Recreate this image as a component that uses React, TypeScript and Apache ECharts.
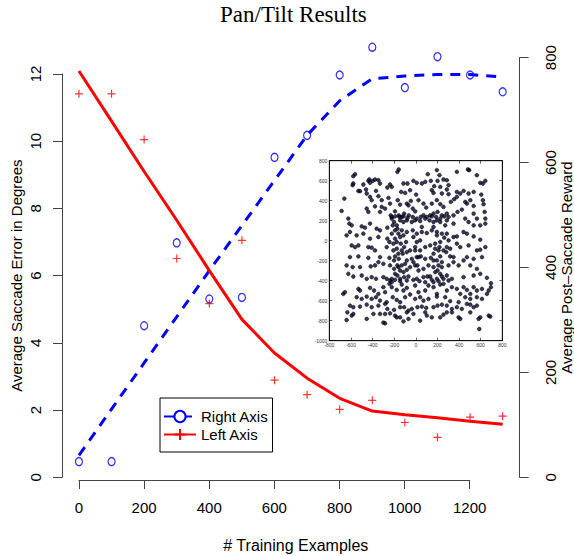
import React, { useEffect, useRef } from 'react';
import * as echarts from 'echarts';

// Main chart data
const trainingExamples = [0, 100, 200, 300, 400, 500, 600, 700, 800, 900, 1000, 1100, 1200, 1300];
const errorObserved = [11.41, 11.41, 10.05, 6.51, 5.17, 7.05, 2.89, 2.46, 2.02, 2.29, 1.63, 1.19, 1.79, 1.82];
const errorFit = [12.09, 10.6, 9.1, 7.65, 6.15, 4.7, 3.7, 2.95, 2.35, 1.97, 1.86, 1.77, 1.67, 1.58];
const rewardObserved = [30, 30, 289, 447, 340, 343, 610, 652, 767, 820, 743, 802, 767, 735];
const rewardFit = [42, 130, 218, 306, 394, 480, 566, 652, 718, 760, 765, 768, 768, 763];

const leftTicks = { min: 0, max: 12, interval: 2 };
const leftPlotMax = 12.4857; // left scale value at the top of the right axis (800)
const rightTicks = { min: 0, max: 800, interval: 200 };
const xTicks = { min: 0, max: 1200, interval: 200 };
const xPlotRange = { min: -52, max: 1352 };
const insetXTicks = { min: -800, max: 800, interval: 200 };
const insetYTicks = { min: -1000, max: 800, interval: 200 };

// Inset scatter (x, y)
const insetPoints: [number, number][] = [
  [-562,665],[-578,645],[-158,712],[-170,689],[482,712],[494,706],[195,706],[111,665],[219,655],[380,689],
  [565,655],[643,599],[621,572],[596,579],[-578,572],[-584,555],[-485,562],[-439,599],[-430,612],[-399,599],
  [-377,612],[-346,605],[-331,572],[-423,579],[-238,562],[-222,538],[-114,572],[-77,572],[-22,599],[9,579],
  [56,572],[87,589],[139,599],[170,545],[201,599],[256,612],[287,605],[303,555],[226,538],[287,512],
  [-531,498],[-516,495],[-460,512],[-368,498],[-263,532],[-136,488],[-99,478],[-53,505],[3,461],[148,505],
  [164,478],[241,472],[303,465],[380,488],[442,498],[535,488],[606,461],[488,472],
  [-661,421],[-454,472],[-423,438],[-408,405],[-346,445],[-315,405],[-253,428],[-238,371],[-315,338],[-284,321],
  [-167,405],[-145,361],[-83,371],[-46,398],[-68,354],[-28,321],[25,405],[-6,294],[71,371],[96,331],
  [148,371],[195,405],[226,365],[256,338],[324,388],[355,415],[380,438],[411,472],[457,388],[473,371],
  [504,405],[535,348],[627,365],[621,405],[-686,298],[-454,321],[-439,288],[-377,344],[-331,288],[-192,294],
  [-222,237],[-158,254],[-130,237],[-108,271],[-65,254],[71,254],[133,254],[164,271],[201,288],[241,254],
  [287,271],[349,254],[386,288],[426,311],[535,271],[565,221],[637,288],[643,221],
  [-624,221],[-615,171],[-593,154],[-500,144],[-470,130],[-423,171],[-362,120],[-331,104],[-263,130],[-222,221],
  [-201,187],[-176,154],[-145,204],[-114,187],[-83,204],[-37,187],[-6,204],[40,197],[87,221],[127,204],
  [164,187],[195,204],[226,187],[287,204],[349,171],[457,221],[488,187],[535,154],[596,154],[643,171],
  [-609,87],[-640,54],[-547,54],[-485,70],[-423,20],[-346,37],[-263,20],[-192,104],[-161,70],[-130,104],
  [-83,87],[-28,104],[9,70],[56,87],[102,77],[148,104],[195,87],[241,70],[263,30],[349,37],
  [380,43],[442,87],[473,70],[535,43],[596,10],
  [-593,-47],[-562,-64],[-531,-47],[-439,-64],[-408,-70],[-377,-97],[-269,-64],[-244,-13],[-207,-30],[-176,-80],
  [-139,-30],[-108,-64],[-83,-114],[-53,-97],[-6,-64],[40,-97],[87,-64],[133,-47],[179,-80],[219,-64],
  [256,-97],[287,-64],[318,-80],[380,-30],[411,-64],[488,-47],[565,-97],[596,-90],[643,-64],[-609,-164],
  [-531,-157],[-439,-171],[-331,-164],[-244,-171],[-192,-157],[-158,-181],[-121,-130],[-83,-197],[-37,-181],[9,-164],
  [46,-157],[87,-181],[139,-171],[164,-130],[195,-197],[226,-157],[318,-157],[349,-164],[442,-197],[473,-164],
  [535,-181],[612,-164],
  [-640,-247],[-584,-264],[-516,-264],[-417,-257],[-377,-247],[-346,-214],[-300,-231],[-238,-247],[-201,-281],[-161,-264],
  [-130,-247],[-83,-291],[-53,-264],[-6,-247],[25,-298],[71,-281],[117,-247],[164,-264],[201,-298],[241,-264],
  [303,-247],[349,-214],[396,-247],[504,-247],[565,-281],[-624,-331],[-578,-358],[-500,-348],[-454,-381],[-408,-364],
  [-368,-381],[-300,-364],[-238,-398],[-192,-391],[-145,-381],[-108,-364],[-68,-358],[9,-381],[71,-364],[108,-358],
  [148,-391],[195,-381],[241,-358],[287,-348],[334,-381],[442,-364],[535,-348],[596,-331],[658,-371],[695,-425],
  [-671,-532],[-655,-515],[-531,-482],[-516,-498],[-423,-472],[-386,-498],[-368,-565],[-346,-532],[-300,-465],[-284,-515],
  [-244,-431],[-222,-465],[-176,-492],[-130,-438],[-114,-498],[-83,-472],[-6,-448],[25,-515],[87,-498],[117,-448],
  [164,-465],[195,-532],[226,-438],[287,-498],[334,-465],[380,-482],[411,-532],[442,-465],[473,-492],[504,-532],
  [535,-465],[565,-498],[612,-482],[695,-465],[674,-498],[-547,-565],[-500,-582],[-454,-559],[-408,-582],[-331,-599],
  [-269,-615],[-213,-565],[-176,-592],[-145,-615],[-99,-565],[-53,-538],[-6,-582],[40,-565],[71,-599],[117,-582],
  [195,-559],[272,-565],[318,-605],[396,-615],[457,-565],[504,-582],[565,-565],[612,-582],[658,-532],
  [-609,-649],[-578,-665],[-516,-659],[-454,-639],[-408,-665],[-346,-649],[-284,-632],[-263,-682],[-201,-692],[-145,-665],
  [-108,-665],[-68,-699],[-37,-682],[15,-665],[56,-659],[96,-672],[164,-665],[201,-649],[241,-639],[287,-649],
  [334,-682],[380,-665],[426,-682],[473,-632],[504,-639],[535,-665],[565,-649],[-633,-716],[-593,-749],[-640,-793],
  [-578,-732],[-454,-782],[-392,-732],[-331,-732],[-284,-732],[-238,-726],[-192,-749],[-176,-766],[-145,-766],[-83,-716],
  [-68,-782],[-22,-732],[87,-716],[102,-749],[148,-766],[226,-766],[256,-739],[287,-716],[334,-716],[396,-766],
  [411,-782],[504,-716],[581,-782],[596,-766],[674,-749],[689,-759],
  [-284,-826],[-300,-819],[-114,-806],[40,-799],[587,-883],
  [-232,254],[-192,244],[-151,237],[-114,244],[-77,227],[-28,237],[9,221],[46,237],[102,237],[148,244],
  [188,237],[226,221],[263,244],[303,237],[-213,154],[-170,120],[-145,37],[-192,20],[-222,70],[-176,-13],
  [-207,-97],[-161,-130],[-201,-197],[-170,-247],[-145,-298],[-192,-331],[-222,-381],[-170,-348],[-114,54],[-90,-13],
  [-130,-97],[-99,-231],[-114,-314],[-22,37],[9,-13],[-6,-97],[25,-164],[-22,-214],[15,-247],[40,3],
  [56,137],[164,137],[195,54],[226,-13],[179,-30],[210,-97],[164,-197],[241,-214],[210,-247],[179,-314],
  [226,-331],[256,-381],[272,154],[287,70],[303,3],[281,-114],[-269,-381],[-222,-415],[-145,-405],[-83,-398],
  [-22,-391],[34,-405],[87,-415],[133,-358],[164,-415],[210,-405],[256,-431],[303,-398],
];

const SANS = 'Liberation Sans, Arial, sans-serif';
const AXIS_COLOR = '#444';
const plain = (v: number) => String(v);

export default function App() {
  const ref = useRef<HTMLDivElement>(null);

  useEffect(() => {
    if (!ref.current) return;
    const chart = echarts.init(ref.current, null, { renderer: 'svg' });

    const hiddenAxisParts = {
      axisLine: { show: false, onZero: false },
      axisTick: { show: false },
      axisLabel: { show: false },
      splitLine: { show: false },
    };

    const insetAxisCommon = {
      axisLine: { show: true, onZero: false, lineStyle: { color: '#000', width: 0.8 } },
      axisTick: { show: true, inside: true, length: 3, lineStyle: { color: '#000', width: 0.6 } },
      splitLine: { show: false },
    };

    const mainAxisLine = { show: true, onZero: false, lineStyle: { color: AXIS_COLOR, width: 1 } };
    const mainAxisTick = { show: true, length: 9, lineStyle: { color: AXIS_COLOR, width: 1 } };

    const option: any = {
      animation: false,
      backgroundColor: '#fff',
      title: {
        text: 'Pan/Tilt Results',
        left: 220,
        top: 3,
        padding: 0,
        textStyle: { fontFamily: 'Liberation Serif, Times New Roman, serif', fontSize: 23, fontWeight: 'normal', color: '#000' },
      },
      legend: {
        data: ['Right Axis', 'Left Axis'],
        orient: 'vertical',
        left: 160,
        top: 398,
        padding: [10, 4, 9, 3],
        itemGap: 1,
        itemWidth: 32,
        itemHeight: 14,
        borderColor: '#000',
        borderWidth: 1,
        borderRadius: 0,
        backgroundColor: '#fff',
        textStyle: { fontFamily: SANS, fontSize: 15, color: '#000', lineHeight: 17 },
        selectedMode: false,
      },
      grid: [
        // 0: plotting region for both main series (top = 800 on right scale, bottom = 0)
        { left: 62, top: 57.7, width: 457.6, height: 419.6, outerBoundsMode: 'none', containLabel: false },
        // 1: left axis drawn from 0 to 12 only
        { left: 62, top: 74, width: 457.6, height: 403.3, outerBoundsMode: 'none', containLabel: false },
        // 2: bottom axis drawn from 0 to 1200 only
        { left: 79, top: 40, width: 390.7, height: 440, outerBoundsMode: 'none', containLabel: false },
        // 3: inset
        { left: 329.3, top: 160.7, width: 173, height: 180, show: true, backgroundColor: '#fff', borderColor: '#000', borderWidth: 0.8, z: 5, outerBoundsMode: 'none', containLabel: false },
      ],
      xAxis: [
        {
          gridIndex: 0, type: 'value', min: xPlotRange.min, max: xPlotRange.max, ...hiddenAxisParts,
          name: '# Training Examples', nameLocation: 'middle', nameGap: 60, nameMoveOverlap: false,
          nameTextStyle: { fontFamily: SANS, fontSize: 16, color: '#000', padding: [0, 0, 0, 10] },
        },
        { gridIndex: 1, type: 'value', min: xPlotRange.min, max: xPlotRange.max, ...hiddenAxisParts },
        {
          gridIndex: 2, type: 'value', min: xTicks.min, max: xTicks.max, interval: xTicks.interval,
          axisLine: mainAxisLine,
          axisTick: mainAxisTick,
          axisLabel: { fontFamily: SANS, fontSize: 15, color: '#000', margin: 20, formatter: plain },
          splitLine: { show: false },
        },
        {
          gridIndex: 3, type: 'value', min: insetXTicks.min, max: insetXTicks.max, interval: insetXTicks.interval,
          ...insetAxisCommon, z: 6,
          axisLabel: { fontFamily: SANS, fontSize: 5, color: '#333', margin: 2, formatter: plain },
        },
        {
          gridIndex: 3, type: 'value', position: 'top', min: insetXTicks.min, max: insetXTicks.max, interval: insetXTicks.interval,
          ...insetAxisCommon, z: 6, axisLabel: { show: false },
        },
      ],
      yAxis: [
        // 0: hidden left scale for the error series in grid 0
        { gridIndex: 0, type: 'value', position: 'left', min: 0, max: leftPlotMax, ...hiddenAxisParts },
        // 1: visible right scale (reward)
        {
          gridIndex: 0, type: 'value', position: 'right', min: rightTicks.min, max: rightTicks.max, interval: rightTicks.interval,
          axisLine: mainAxisLine,
          axisTick: mainAxisTick,
          axisLabel: { fontFamily: SANS, fontSize: 15, color: '#000', rotate: 90, margin: 23, formatter: plain },
          splitLine: { show: false },
          name: 'Average Post\u2013Saccade Reward', nameLocation: 'middle', nameGap: 39, nameRotate: 90, nameMoveOverlap: false,
          nameTextStyle: { fontFamily: SANS, fontSize: 15, color: '#000' },
        },
        // 2: visible left axis (error), 0..12
        {
          gridIndex: 1, type: 'value', position: 'left', min: leftTicks.min, max: leftTicks.max, interval: leftTicks.interval,
          axisLine: mainAxisLine,
          axisTick: mainAxisTick,
          axisLabel: { fontFamily: SANS, fontSize: 15, color: '#000', rotate: 90, margin: 19, formatter: plain },
          splitLine: { show: false },
          name: 'Average Saccade Error in Degrees', nameLocation: 'middle', nameGap: 38, nameRotate: 90, nameMoveOverlap: false,
          nameTextStyle: { fontFamily: SANS, fontSize: 15, color: '#000' },
        },
        { gridIndex: 2, type: 'value', min: 0, max: 1, ...hiddenAxisParts },
        {
          gridIndex: 3, type: 'value', min: insetYTicks.min, max: insetYTicks.max, interval: insetYTicks.interval,
          ...insetAxisCommon, z: 6,
          axisLabel: { fontFamily: SANS, fontSize: 5, color: '#333', margin: 2, formatter: plain },
        },
        {
          gridIndex: 3, type: 'value', position: 'right', min: insetYTicks.min, max: insetYTicks.max, interval: insetYTicks.interval,
          ...insetAxisCommon, z: 6, axisLabel: { show: false },
        },
      ],
      series: [
        {
          name: 'Right Axis', type: 'line', xAxisIndex: 0, yAxisIndex: 1,
          data: trainingExamples.map((x, i) => [x, rewardFit[i]]),
          symbol: 'emptyCircle', symbolSize: 9, showSymbol: false, clip: false,
          lineStyle: { color: '#0000ff', width: 3, type: [10, 8] },
          itemStyle: { color: '#0000ff', borderColor: '#0000ff', borderWidth: 1.5 },
          z: 2,
        },
        {
          name: 'Left Axis', type: 'line', xAxisIndex: 0, yAxisIndex: 0,
          data: trainingExamples.map((x, i) => [x, errorFit[i]]),
          symbol: 'path://M5,0L5,10M0,5L10,5', symbolSize: 12, showSymbol: false, clip: false,
          lineStyle: { color: '#ff0000', width: 3 },
          itemStyle: { color: '#ff0000', borderColor: '#ff0000', borderWidth: 1.5 },
          z: 2,
        },
        {
          name: 'rewardObserved', type: 'scatter', xAxisIndex: 0, yAxisIndex: 1, clip: false,
          data: trainingExamples.map((x, i) => [x, rewardObserved[i]]),
          symbol: 'circle', symbolSize: [7, 8],
          itemStyle: { color: 'rgba(0,0,0,0)', borderColor: '#0000ff', borderWidth: 1.3 },
          z: 3,
        },
        {
          name: 'errorObserved', type: 'scatter', xAxisIndex: 0, yAxisIndex: 0, clip: false,
          data: trainingExamples.map((x, i) => [x, errorObserved[i]]),
          symbol: 'path://M5,0L5,10M0,5L10,5', symbolSize: 8,
          itemStyle: { color: 'rgba(0,0,0,0)', borderColor: '#ff0000', borderWidth: 1.2 },
          z: 3,
        },
        {
          name: 'inset', type: 'scatter', xAxisIndex: 3, yAxisIndex: 4,
          data: insetPoints,
          symbol: 'circle', symbolSize: 3.8,
          itemStyle: { color: '#06062e', borderColor: '#000', borderWidth: 0.6 },
          z: 7,
        },
      ],
    };

    chart.setOption(option);
    return () => chart.dispose();
  }, []);

  return (
    <div
      ref={ref}
      style={{ position: 'fixed', left: 0, top: 0, width: 574, height: 556, background: '#fff' }}
    />
  );
}
